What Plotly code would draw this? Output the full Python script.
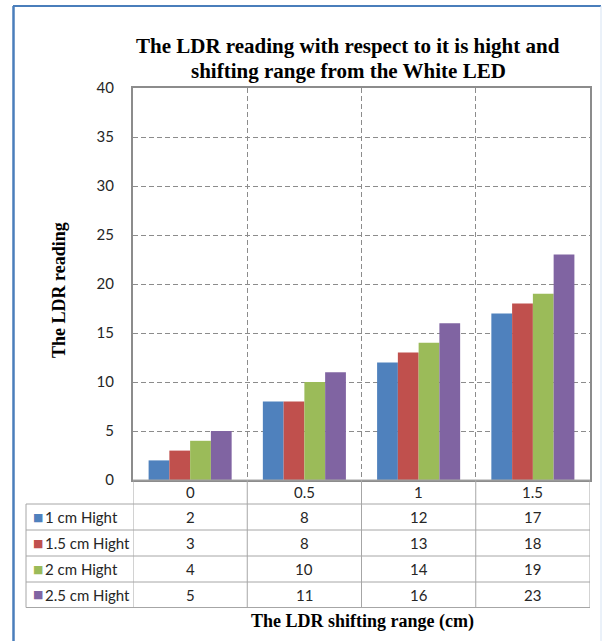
import plotly.graph_objects as go

categories = ["0", "0.5", "1", "1.5"]
series_names = ["1 cm Hight", "1.5 cm Hight", "2 cm Hight", "2.5 cm Hight"]
h1 = [2, 8, 12, 17]
h15 = [3, 8, 13, 18]
h2 = [4, 10, 14, 19]
h25 = [5, 11, 16, 23]
series_values = [h1, h15, h2, h25]
colors = ["#4F81BD", "#C0504D", "#9BBB59", "#8064A2"]
y_ticks = [0, 5, 10, 15, 20, 25, 30, 35, 40]
title_lines = ["The LDR reading with respect to it is hight and", "shifting range from the White LED"]

W_FIG, H_FIG = 603, 641
L, R, T, B = 133, 13, 88, 161
PW = W_FIG - L - R
PH = H_FIG - T - B
BOTTOM = T + PH


def px_x(p):
    return (p - L) / PW


def px_y(p):
    return (BOTTOM - p) / PH


fig = go.Figure()
for name, vals, col in zip(series_names, series_values, colors):
    fig.add_trace(go.Bar(x=categories, y=vals, name=name, marker=dict(color=col, line=dict(width=0)),
                         showlegend=False))

GRID = "#8c8c8c"
TXT = "#262626"
SANS = "Lato, 'Open Sans', sans-serif"
SERIF = "'Liberation Serif', 'Times New Roman', serif"
FS = 15

fig.update_layout(
    width=W_FIG, height=H_FIG,
    margin=dict(l=L, r=R, t=T, b=B, pad=0),
    paper_bgcolor="white", plot_bgcolor="white",
    barmode="group", bargap=0.273, bargroupgap=0,
    font=dict(family=SANS, size=FS, color=TXT),
)
fig.update_xaxes(type="category", showticklabels=False, ticks="", tickson="boundaries",
                 showgrid=True, gridcolor=GRID, griddash="5px,3px", gridwidth=1,
                 showline=True, linecolor=GRID, linewidth=2, mirror=True,
                 range=[-0.5, 3.5])
fig.update_yaxes(range=[0, 40], tickvals=y_ticks, showgrid=True, gridcolor=GRID, griddash="5px,3px",
                 gridwidth=1, zeroline=False, showline=True, linecolor=GRID, linewidth=2, mirror=True,
                 ticks="inside", ticklen=4, tickcolor=GRID, ticklabelstandoff=14,
                 tickfont=dict(family=SANS, size=FS, color=TXT))

shapes = []
ann = []

# outer frame of the chart area
shapes.append(dict(type="line", xref="paper", yref="paper", x0=px_x(13.5), x1=px_x(13.5),
                   y0=px_y(6), y1=px_y(641), line=dict(color="#4A7EBB", width=2.5)))
shapes.append(dict(type="line", xref="paper", yref="paper", x0=px_x(13), x1=px_x(601),
                   y0=px_y(6), y1=px_y(6), line=dict(color="#4A7EBB", width=2)))
shapes.append(dict(type="line", xref="paper", yref="paper", x0=px_x(601), x1=px_x(601),
                   y0=px_y(6), y1=px_y(641), line=dict(color="#D6E3F3", width=1)))

# data table grid
row_edges = [480, 504, 530, 556, 582, 607.5]
TBL = "#a6a6a6"
for i, ye in enumerate(row_edges):
    x0 = px_x(26) if i >= 1 else 0
    shapes.append(dict(type="line", xref="paper", yref="paper", x0=x0, x1=1,
                       y0=px_y(ye), y1=px_y(ye), line=dict(color=TBL, width=1)))
shapes.append(dict(type="line", xref="paper", yref="paper", x0=px_x(26), x1=px_x(26),
                   y0=px_y(row_edges[1]), y1=px_y(row_edges[-1]), line=dict(color=TBL, width=1)))
for k in range(len(categories) + 1):
    shapes.append(dict(type="line", xref="x", yref="paper", x0=k - 0.5, x1=k - 0.5,
                       y0=px_y(row_edges[0]), y1=px_y(row_edges[-1]), line=dict(color=TBL, width=1)))

# header row: category labels
hy = px_y((row_edges[0] + row_edges[1]) / 2)
for k, c in enumerate(categories):
    ann.append(dict(x=k, y=hy, xref="x", yref="paper", text=c, showarrow=False,
                    font=dict(family=SANS, size=FS, color=TXT), xanchor="center", yanchor="middle"))
# series rows
for r, (name, vals, col) in enumerate(zip(series_names, series_values, colors)):
    yc = px_y((row_edges[r + 1] + row_edges[r + 2]) / 2)
    ann.append(dict(x=px_x(30.5), y=yc, xref="paper", yref="paper", text="■", showarrow=False,
                    font=dict(family="DejaVu Sans", size=11, color=col), xanchor="left", yanchor="middle"))
    ann.append(dict(x=px_x(43), y=yc, xref="paper", yref="paper", text=name, showarrow=False,
                    font=dict(family=SANS, size=FS, color=TXT), xanchor="left", yanchor="middle"))
    for k, v in enumerate(vals):
        ann.append(dict(x=k, y=yc, xref="x", yref="paper", text=str(v), showarrow=False,
                        font=dict(family=SANS, size=FS, color=TXT), xanchor="center", yanchor="middle"))

# titles
for line, ypx in zip(title_lines, [46, 71]):
    ann.append(dict(x=px_x(348), y=px_y(ypx), xref="paper", yref="paper", text="<b>" + line + "</b>",
                    showarrow=False, font=dict(family=SERIF, size=21, color="#000"),
                    xanchor="center", yanchor="middle"))
ann.append(dict(x=px_x(59), y=px_y(290), xref="paper", yref="paper", text="<b>The LDR reading</b>",
                textangle=-90, showarrow=False, font=dict(family=SERIF, size=18, color="#000"),
                xanchor="center", yanchor="middle"))
ann.append(dict(x=px_x(362), y=px_y(621), xref="paper", yref="paper",
                text="<b>The LDR shifting range (cm)</b>", showarrow=False,
                font=dict(family=SERIF, size=18, color="#000"), xanchor="center", yanchor="middle"))

fig.update_layout(shapes=shapes, annotations=ann)
fig.write_html("out.html", config={"displayModeBar": False},
               post_script="document.body.style.margin='0';")
